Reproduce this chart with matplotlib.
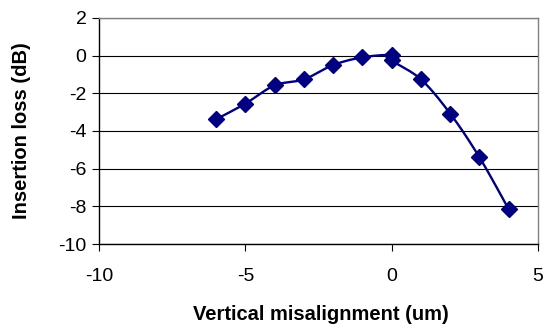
import numpy as np
import matplotlib
matplotlib.use("Agg")
from matplotlib import pyplot as plt

plt.rcParams['font.family'] = ['Liberation Sans', 'DejaVu Sans']
plt.rcParams['axes.unicode_minus'] = False

offset_um = [-6, -5, -4, -3, -2, -1, 0, 0, 1, 2, 3, 4]
loss_db = [-3.38, -2.55, -1.58, -1.26, -0.50, -0.09, 0.03, -0.25, -1.26, -3.08, -5.40, -8.16]


def smooth_curve(x, y, steps=30):
	# Catmull-Rom segments through each measured point, like a spreadsheet "smoothed line"
	pts = np.column_stack([x, y]).astype(float)
	pts = np.vstack([pts[0], pts, pts[-1]])
	out = []
	t = np.linspace(0, 1, steps)[:, None]
	for i in range(1, len(pts) - 2):
		p0, p1, p2, p3 = pts[i - 1], pts[i], pts[i + 1], pts[i + 2]
		c1 = p1 + (p2 - p0) / 6
		c2 = p2 - (p3 - p1) / 6
		seg = (1 - t) ** 3 * p1 + 3 * (1 - t) ** 2 * t * c1 + 3 * (1 - t) * t ** 2 * c2 + t ** 3 * p2
		out.append(seg)
	out = np.vstack(out)
	return out[:, 0], out[:, 1]


fig = plt.figure(figsize=(5.45, 3.32), dpi=100)
ax = fig.add_axes([0.1817, 0.265, 0.8055, 0.681])

sx, sy = smooth_curve(offset_um, loss_db)
ax.plot(sx, sy, color="#000080", lw=1.7, zorder=3)
ax.plot(offset_um, loss_db, linestyle="none", marker="D", markersize=8.5,
		color="#000080", zorder=4)

ax.set_xlim(-10, 5)
ax.set_ylim(-10, 2)
ax.set_xticks([-10, -5, 0, 5])
ax.set_yticks(range(-10, 3, 2))
ax.yaxis.grid(True, color="black", lw=0.8)
ax.set_axisbelow(True)

for side in ["top", "right"]:
	ax.spines[side].set_color("#808080")
	ax.spines[side].set_linewidth(1.0)
for side in ["left", "bottom"]:
	ax.spines[side].set_color("black")
	ax.spines[side].set_linewidth(1.0)

ax.tick_params(direction="out", length=5, width=0.8, labelsize=14)
ax.tick_params(axis="y", pad=4)
ax.tick_params(axis="x", pad=12)

ax.set_xlabel("Vertical misalignment (um)", fontsize=14.5, fontweight="bold")
ax.set_ylabel("Insertion loss (dB)", fontsize=14.5, fontweight="bold")
ax.xaxis.set_label_coords(0.505, -0.27)
ax.yaxis.set_label_coords(-0.155, 0.5)

fig.savefig("out.png", dpi=100)
